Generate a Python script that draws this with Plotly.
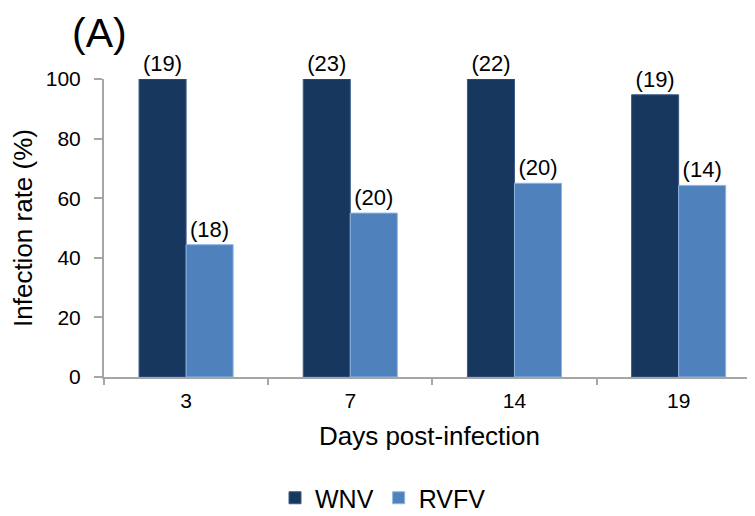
import plotly.graph_objects as go

days = ["3", "7", "14", "19"]
wnv_rate = [100, 100, 100, 94.7]
rvfv_rate = [44.4, 55, 65, 64.3]
wnv_n = ["(19)", "(23)", "(22)", "(19)"]
rvfv_n = ["(18)", "(20)", "(20)", "(14)"]
yticks = [0, 20, 40, 60, 80, 100]

FONT = "Liberation Sans, Arial, sans-serif"
AXIS_GRAY = "#A6A6A6"

# The page body has an 8px margin, so the figure is sized and laid out
# in coordinates shifted by 8px from the window.
OFF = 8
W, H = 755 - OFF, 516 - OFF
L, T = 104 - OFF, 79 - OFF
PLOT_BOTTOM = 377 - OFF
B = H - PLOT_BOTTOM
PW, PH = W - L, PLOT_BOTTOM - T

fig = go.Figure()
fig.add_trace(go.Bar(
    x=days, y=wnv_rate, name="WNV", text=wnv_n, textposition="outside",
    marker=dict(color="#17375E", line=dict(color="#3A5A85", width=1)),
    textfont=dict(size=22, color="black", family=FONT), cliponaxis=False,
))
fig.add_trace(go.Bar(
    x=days, y=rvfv_rate, name="RVFV", text=rvfv_n, textposition="outside",
    marker=dict(color="#4F81BD", line=dict(color="#8EB4E3", width=1)),
    textfont=dict(size=22, color="black", family=FONT), cliponaxis=False,
))

fig.update_layout(
    width=W, height=H,
    margin=dict(l=L, r=0, t=T, b=B, autoexpand=False),
    paper_bgcolor="white", plot_bgcolor="white",
    font=dict(family=FONT, size=21, color="black"),
    barmode="group", bargap=0.427, bargroupgap=0,
    showlegend=True,
    legend=dict(orientation="h", xref="container", yref="container",
                x=(383 - OFF) / W, xanchor="center",
                y=1 - (498 - OFF) / H, yanchor="middle",
                font=dict(size=25, family=FONT, color="black"),
                itemwidth=30, traceorder="normal"),
    xaxis=dict(type="category", range=[-0.5, 3.465], tickson="boundaries",
               ticks="outside", ticklen=6, tickwidth=2, tickcolor=AXIS_GRAY,
               showline=True, linecolor=AXIS_GRAY, linewidth=2,
               showgrid=False, ticklabelstandoff=4,
               tickfont=dict(size=21),
               title=dict(text="Days post-infection", font=dict(size=26), standoff=16)),
    yaxis=dict(range=[0, 100], tickvals=yticks, ticks="outside", ticklen=8,
               tickwidth=2, tickcolor=AXIS_GRAY, showline=True,
               linecolor=AXIS_GRAY, linewidth=2, showgrid=False, zeroline=False,
               ticklabelstandoff=9, tickfont=dict(size=21),
               title=dict(text="Infection rate (%)", font=dict(size=26), standoff=7)),
    annotations=[dict(text="(A)", xref="paper", yref="paper",
                      x=((99 - OFF) - L) / PW, y=1 + T / PH,
                      xanchor="center", yanchor="top", showarrow=False,
                      font=dict(size=41, family=FONT, color="black"))],
)

fig.write_html("out.html")
